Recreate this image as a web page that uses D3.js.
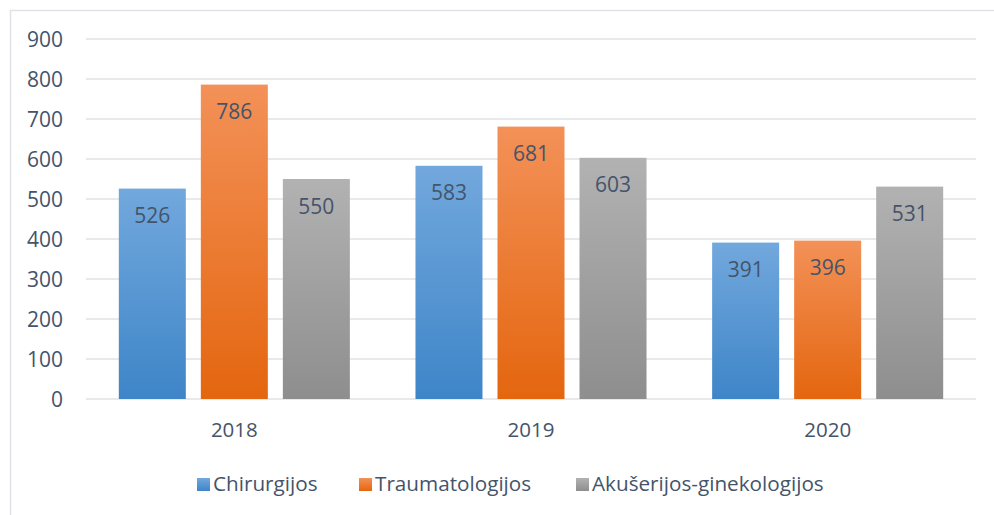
<!doctype html>
<html>
<head>
<meta charset="utf-8">
<style>
  body { margin: 0; background: #fff; }
  text { font-family: "Open Sans", sans-serif; fill: #44546a; }
</style>
<script src="https://d3js.org/d3.v7.min.js"></script>
</head>
<body>
<svg width="994" height="515"></svg>
<script>
var years = ["2018", "2019", "2020"];
var seriesNames = ["Chirurgijos", "Traumatologijos", "Akušerijos-ginekologijos"];
var chirurgijos = [526, 583, 391];
var traumatologijos = [786, 681, 396];
var akuserijos = [550, 603, 531];
var yTicks = [0, 100, 200, 300, 400, 500, 600, 700, 800, 900];

var values = [chirurgijos, traumatologijos, akuserijos];
var colors = [
  { top: "#72a8dd", bottom: "#3e85c8" },
  { top: "#f39158", bottom: "#e4660f" },
  { top: "#b2b2b2", bottom: "#8e8e8e" }
];

var svg = d3.select("svg");
var margin = { left: 86, right: 18, top: 39, bottom: 116 };
var W = 994, H = 515;

// frame
svg.append("path")
   .attr("d", "M10.5,515 V10.5 H994")
   .attr("fill", "none")
   .attr("stroke", "#dfe2e7")
   .attr("stroke-width", 1.5);

var defs = svg.append("defs");
colors.forEach(function(c, i) {
  var g = defs.append("linearGradient").attr("id", "g" + i)
      .attr("x1", 0).attr("y1", 0).attr("x2", 0).attr("y2", 1);
  g.append("stop").attr("offset", "0%").attr("stop-color", c.top);
  g.append("stop").attr("offset", "100%").attr("stop-color", c.bottom);
});

var x = d3.scaleBand()
    .domain(years)
    .range([margin.left, W - margin.right]);

var x1 = d3.scaleBand()
    .domain(d3.range(seriesNames.length))
    .range([0, x.bandwidth()])
    .paddingInner(0.183)
    .paddingOuter(0.4);

var y = d3.scaleLinear()
    .domain([0, 900])
    .range([H - margin.bottom, margin.top]);

// grid
svg.append("g").selectAll("line")
   .data(yTicks)
   .enter().append("line")
   .attr("x1", margin.left)
   .attr("x2", W - margin.right)
   .attr("y1", function(d) { return y(d); })
   .attr("y2", function(d) { return y(d); })
   .attr("stroke", "#dfe2e7")
   .attr("stroke-width", 1.5);

// y labels
svg.append("g").selectAll("text")
   .data(yTicks)
   .enter().append("text")
   .attr("x", 63)
   .attr("y", function(d) { return y(d); })
   .attr("dy", "0.36em")
   .attr("text-anchor", "end")
   .attr("font-size", "21px")
   .text(function(d) { return d; });

// bars
values.forEach(function(vals, s) {
  var g = svg.append("g");
  g.selectAll("rect")
   .data(vals)
   .enter().append("rect")
   .attr("x", function(d, i) { return x(years[i]) + x1(s); })
   .attr("width", x1.bandwidth())
   .attr("y", function(d) { return y(d); })
   .attr("height", function(d) { return y(0) - y(d); })
   .attr("fill", "url(#g" + s + ")");
  g.selectAll("text")
   .data(vals)
   .enter().append("text")
   .attr("x", function(d, i) { return x(years[i]) + x1(s) + x1.bandwidth() / 2; })
   .attr("y", function(d) { return y(d) + 27; })
   .attr("dy", "0.36em")
   .attr("text-anchor", "middle")
   .attr("font-size", "21px")
   .text(function(d) { return d; });
});

// x labels
svg.append("g").selectAll("text")
   .data(years)
   .enter().append("text")
   .attr("x", function(d) { return x(d) + x.bandwidth() / 2; })
   .attr("y", 430)
   .attr("dy", "0.36em")
   .attr("text-anchor", "middle")
   .attr("font-size", "20.5px")
   .text(function(d) { return d; });

// legend
var legendX = [197, 359, 576];
var lg = svg.append("g").selectAll("g")
   .data(seriesNames)
   .enter().append("g")
   .attr("transform", function(d, i) { return "translate(" + legendX[i] + ",484)"; });
lg.append("rect")
  .attr("x", 0).attr("y", -6)
  .attr("width", 13).attr("height", 13)
  .attr("fill", function(d, i) { return "url(#g" + i + ")"; });
lg.append("text")
  .attr("x", 16)
  .attr("y", 0)
  .attr("dy", "0.36em")
  .attr("font-size", "20.7px")
  .text(function(d) { return d; });
</script>
</body>
</html>
